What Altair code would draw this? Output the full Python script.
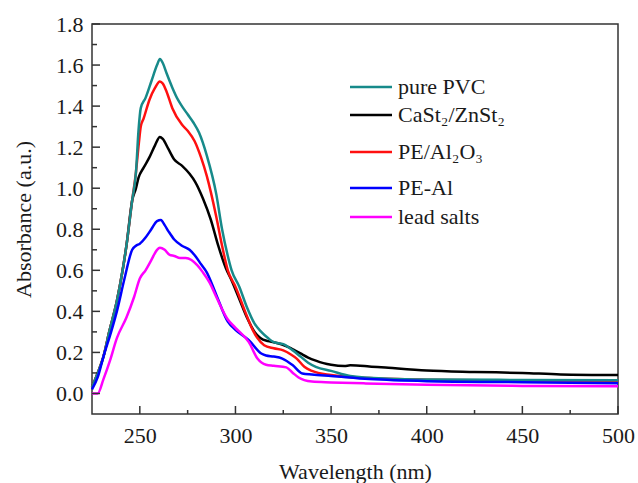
import altair as alt
import pandas as pd

FONT = "'Liberation Serif', 'Times New Roman', Times, serif"
INK = "#1a1a1a"
W, H = 526, 390

# ---- UV-vis absorbance spectra (wavelength in nm, absorbance in a.u.) ----
wl_pvc = [225, 228, 231, 234, 238, 241, 243, 246, 248, 249.3, 250.5, 253, 256, 259,
          260.5, 262, 264, 267, 270, 272, 275, 278, 281, 285, 290, 293, 296, 298,
          302, 306, 310, 313.5, 317, 320, 325, 330, 334, 338, 342, 350, 360, 380,
          400, 450, 500]
abs_pvc = [0.03, 0.10, 0.18, 0.30, 0.45, 0.60, 0.72, 0.94, 1.08, 1.28, 1.39, 1.44,
           1.52, 1.60, 1.63, 1.61, 1.56, 1.49, 1.43, 1.40, 1.36, 1.32, 1.27, 1.16,
           0.97, 0.80, 0.67, 0.60, 0.52, 0.42, 0.34, 0.30, 0.27, 0.25, 0.24, 0.21,
           0.18, 0.15, 0.13, 0.11, 0.085, 0.072, 0.068, 0.066, 0.065]

wl_ca_zn = [225, 228, 231, 234, 238, 241, 243, 246, 248, 249.3, 252, 255, 258, 260.5,
            262, 265, 268, 272, 276, 279, 283, 287, 291, 295, 298, 302, 306, 310,
            313, 317, 320, 324, 328, 331, 334, 338, 342, 346, 350, 357, 360, 370,
            380, 400, 425, 450, 470, 500]
abs_ca_zn = [0.03, 0.10, 0.18, 0.30, 0.45, 0.60, 0.72, 0.94, 1.00, 1.05, 1.10, 1.15,
             1.21, 1.25, 1.24, 1.19, 1.14, 1.11, 1.07, 1.03, 0.95, 0.85, 0.72, 0.61,
             0.55, 0.46, 0.37, 0.30, 0.27, 0.255, 0.25, 0.24, 0.225, 0.21, 0.195,
             0.175, 0.16, 0.148, 0.14, 0.134, 0.137, 0.132, 0.125, 0.112, 0.105,
             0.10, 0.093, 0.09]

wl_al2o3 = [225, 228, 231, 234, 238, 241, 243, 246, 248, 249.5, 250.5, 252, 255, 258,
            260.5, 262, 264, 267, 272, 275, 278.6, 282, 285, 290, 293, 296, 300,
            305, 309, 311.5, 315, 320, 325, 329, 332, 336, 340, 350, 370, 400, 450,
            500]
abs_al2o3 = [0.03, 0.10, 0.18, 0.30, 0.45, 0.60, 0.72, 0.94, 1.08, 1.22, 1.30, 1.34,
             1.43, 1.49, 1.52, 1.51, 1.47, 1.39, 1.31, 1.28, 1.23, 1.15, 1.06, 0.86,
             0.72, 0.60, 0.52, 0.40, 0.31, 0.27, 0.235, 0.22, 0.21, 0.19, 0.17, 0.13,
             0.11, 0.09, 0.075, 0.067, 0.063, 0.062]

wl_pe_al = [225, 228, 231, 235, 238, 242, 246, 248, 250, 253, 256, 259, 261, 263, 265,
            268, 272, 276, 279, 282, 285, 290, 296, 300, 307, 313.5, 316, 320, 324.5,
            330, 335, 340, 350, 370, 400, 450, 500]
abs_pe_al = [0.02, 0.08, 0.18, 0.30, 0.40, 0.56, 0.70, 0.72, 0.73, 0.76, 0.80, 0.84,
             0.845, 0.82, 0.79, 0.75, 0.72, 0.70, 0.67, 0.63, 0.59, 0.48, 0.35, 0.31,
             0.26, 0.195, 0.185, 0.18, 0.17, 0.137, 0.097, 0.092, 0.085, 0.07, 0.06,
             0.055, 0.05]

wl_lead = [225, 228, 231, 234.4, 238, 243, 247, 250, 253, 256, 259, 260.5, 263, 265.6,
           268, 271, 274, 277, 280, 283, 286.5, 290, 296, 300, 307, 311.5, 316, 320,
           326.6, 330, 333, 336, 340, 350, 368, 400, 450, 500]
abs_lead = [0.0, 0.0, 0.07, 0.16, 0.27, 0.37, 0.47, 0.56, 0.60, 0.65, 0.70, 0.71, 0.70,
            0.675, 0.67, 0.66, 0.66, 0.65, 0.625, 0.59, 0.54, 0.47, 0.36, 0.32, 0.25,
            0.17, 0.14, 0.135, 0.127, 0.10, 0.078, 0.065, 0.058, 0.054, 0.049, 0.042,
            0.037, 0.035]

# legend order (top to bottom) and colours
names = ["pure PVC", "CaSt₂/ZnSt₂", "PE/Al₂O₃", "PE-Al", "lead salts"]
colors = ["#178a8a", "#000000", "#ff1010", "#0000ff", "#ff00ff"]
spectra = [(wl_pvc, abs_pvc), (wl_ca_zn, abs_ca_zn), (wl_al2o3, abs_al2o3),
           (wl_pe_al, abs_pe_al), (wl_lead, abs_lead)]
draw_order = [1, 2, 0, 3, 4]  # black, red, teal, blue, magenta

# axis ticks and labels
x_major = [250, 300, 350, 400, 450, 500]
x_minor = [275, 325, 375, 425, 475]
y_major = [0.0, 0.2, 0.4, 0.6, 0.8, 1.0, 1.2, 1.4, 1.6, 1.8]
y_minor = [0.1, 0.3, 0.5, 0.7, 0.9, 1.1, 1.3, 1.5, 1.7]

x_scale = alt.Scale(domain=[225, 500], nice=False, zero=False)
y_scale = alt.Scale(domain=[-0.1, 1.8], nice=False, zero=False)

x_axis = alt.Axis(
    values=x_major, format="d", ticks=False, tickSize=0, domain=False, grid=False,
    labelFont=FONT, labelFontSize=22, labelColor=INK, labelPadding=28,
    labelBaseline="alphabetic", labelOverlap=False, labelFlush=False,
    title="Wavelength (nm)", titleFont=FONT, titleFontSize=22,
    titleFontWeight="normal", titleColor=INK, titleX=263, titleY=64,
    titleBaseline="alphabetic",
)
y_axis = alt.Axis(
    values=y_major, format=".1f", ticks=False, tickSize=0, domain=False, grid=False,
    labelFont=FONT, labelFontSize=22, labelColor=INK, labelPadding=9,
    labelBaseline="middle", labelOverlap=False, labelFlush=False,
    title="Absorbance (a.u.)", titleFont=FONT, titleFontSize=22,
    titleFontWeight="normal", titleColor=INK, titleAngle=270, titleX=-62,
    titleY=195, titleBaseline="alphabetic",
)

x_enc = alt.X("wl:Q", scale=x_scale, axis=x_axis)
y_enc = alt.Y("a:Q", scale=y_scale, axis=y_axis)

layers = []

# spectra
for i in draw_order:
    wl, ab = spectra[i]
    df = pd.DataFrame({"wl": wl, "a": ab})
    layers.append(
        alt.Chart(df)
        .mark_line(color=colors[i], strokeWidth=2.5, interpolate="monotone")
        .encode(x=x_enc, y=y_enc)
    )

# inward-pointing ticks on the bottom and left edges
TICK = "#333333"
for vals, length in [(x_major, 8), (x_minor, 4)]:
    layers.append(
        alt.Chart(pd.DataFrame({"wl": vals}))
        .mark_rule(color=TICK, strokeWidth=1.5)
        .encode(x=x_enc, y=alt.value(H), y2=alt.value(H - length))
    )
for vals, length in [(y_major, 8), (y_minor, 5)]:
    layers.append(
        alt.Chart(pd.DataFrame({"a": vals}))
        .mark_rule(color=TICK, strokeWidth=1.5)
        .encode(y=y_enc, x=alt.value(0), x2=alt.value(length))
    )

# legend
row_y = [63, 91, 128, 164, 193]
for name, color, ry in zip(names, colors, row_y):
    layers.append(
        alt.Chart(pd.DataFrame({"t": [name]}))
        .mark_rule(color=color, strokeWidth=2.5)
        .encode(x=alt.value(258), x2=alt.value(300), y=alt.value(ry))
    )
    layers.append(
        alt.Chart(pd.DataFrame({"t": [name]}))
        .mark_text(font=FONT, fontSize=22, align="left", baseline="middle", color=INK)
        .encode(x=alt.value(306), y=alt.value(ry), text="t:N")
    )

chart = (
    alt.layer(*layers)
    .properties(
        width=W,
        height=H,
        padding={"left": 92, "top": 24, "right": 20, "bottom": 69},
        autosize=alt.AutoSizeParams(type="none"),
        background="white",
    )
    .configure_view(stroke="#333333", strokeWidth=1.5)
)

chart.save("out.html", embed_options={"renderer": "svg", "actions": False})
